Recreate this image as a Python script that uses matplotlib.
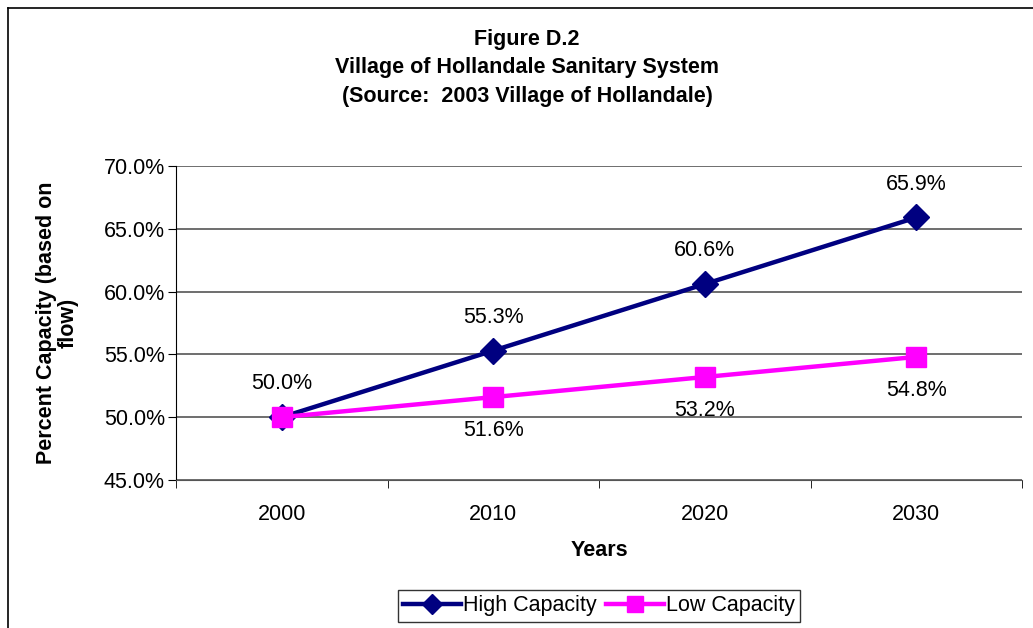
import matplotlib
matplotlib.use("Agg")
import matplotlib.pyplot as plt
from matplotlib.lines import Line2D
from matplotlib.ticker import FixedLocator, FuncFormatter

plt.rcParams["font.family"] = ["Liberation Sans", "DejaVu Sans"]

years = ["2000", "2010", "2020", "2030"]
high_capacity = [50.0, 55.3, 60.6, 65.9]
low_capacity = [50.0, 51.6, 53.2, 54.8]
y_ticks = [45, 50, 55, 60, 65, 70]

NAVY = "#000080"
MAGENTA = "#FF00FF"
FS = 15.5

fig = plt.figure(figsize=(10.33, 6.28), dpi=100)
ax = fig.add_axes([176 / 1033, 1 - 480 / 628, (1022 - 176) / 1033, (480 - 166) / 628])

x = list(range(len(years)))
ax.plot(x, high_capacity, color=NAVY, lw=3.2, marker="D", ms=13,
        label="High Capacity", zorder=3)
ax.plot(x, low_capacity, color=MAGENTA, lw=3.2, marker="s", ms=15,
        label="Low Capacity", zorder=4)

# data labels: high above, low below (the 2000 point shares one label)
for i, v in enumerate(high_capacity):
    ax.annotate(f"{v:.1f}%", (i, v), xytext=(0, 24), textcoords="offset points",
                ha="center", va="center", fontsize=FS)
for i, v in enumerate(low_capacity[1:], start=1):
    ax.annotate(f"{v:.1f}%", (i, v), xytext=(0, -24), textcoords="offset points",
                ha="center", va="center", fontsize=FS)

ax.set_xlim(-0.5, len(years) - 0.5)
ax.set_ylim(45, 70)
ax.set_xticks(x)
ax.set_xticklabels(years, fontsize=FS)
ax.xaxis.set_minor_locator(FixedLocator([i - 0.5 for i in range(len(years) + 1)]))
ax.tick_params(axis="x", which="major", length=0, pad=17)
ax.tick_params(axis="x", which="minor", length=6, direction="out", color="black")
ax.set_yticks(y_ticks)
ax.yaxis.set_major_formatter(FuncFormatter(lambda v, _: f"{v:.1f}%"))
ax.tick_params(axis="y", length=6, direction="out", labelsize=FS, pad=2)

ax.grid(axis="y", color="#555555", lw=1.2)
ax.set_axisbelow(True)
for side in ("top", "right"):
    ax.spines[side].set_visible(False)
ax.spines["bottom"].set_color("#555555")
ax.spines["left"].set_color("black")

ax.set_xlabel("Years", fontsize=FS, fontweight="bold", labelpad=11)
ax.set_ylabel("Percent Capacity (based on\nflow)", fontsize=FS,
              fontweight="bold", labelpad=18, linespacing=1.05)

fig.text(527 / 1033, 1 - 68 / 628,
         "Figure D.2\nVillage of Hollandale Sanitary System\n(Source:  2003 Village of Hollandale)",
         ha="center", va="center", fontsize=FS, fontweight="bold", linespacing=1.45)

leg = fig.legend(loc="center", bbox_to_anchor=(599 / 1033, 1 - 606 / 628),
                 ncol=2, fontsize=FS, frameon=True, fancybox=False,
                 edgecolor="black", borderpad=0.25, handlelength=2.7,
                 handletextpad=0.1, columnspacing=0.4, borderaxespad=0,
                 markerscale=0.75)
leg.get_frame().set_linewidth(1.0)

# outer chart border (top and left edges visible)
fig.add_artist(Line2D([8 / 1033, 1.0], [1 - 8 / 628] * 2, color="black", lw=1.2))
fig.add_artist(Line2D([8 / 1033] * 2, [0.0, 1 - 8 / 628], color="black", lw=1.2))

fig.savefig("out.png", dpi=100)
